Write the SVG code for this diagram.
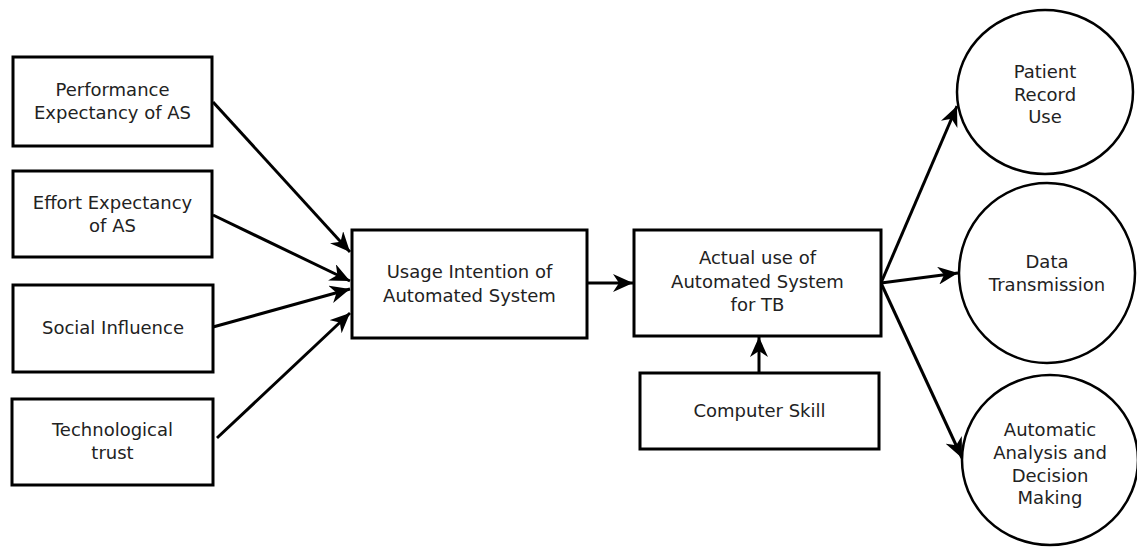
<svg xmlns="http://www.w3.org/2000/svg" width="1137" height="551" viewBox="0 0 1137 551">
<style>
  .box { fill: #fff; stroke: #000; stroke-width: 3; }
  .ell { fill: #fff; stroke: #000; stroke-width: 2.5; }
  .lbl { font-family: "DejaVu Sans", sans-serif; font-size: 18px; fill: #222; text-anchor: middle; }
  .conn { stroke: #000; stroke-width: 3; fill: none; marker-end: url(#arr); }
</style>
<defs>
  <marker id="arr" markerUnits="userSpaceOnUse" markerWidth="22" markerHeight="18" refX="20" refY="9" orient="auto">
    <path d="M0,0 L20,9 L0,18 L6,9 z" fill="#000"/>
  </marker>
</defs>
<rect width="1137" height="551" fill="#fff"/>
<g id="connectors">
  <line class="conn" x1="213" y1="102" x2="350" y2="252"/>
  <line class="conn" x1="213" y1="215" x2="350" y2="281"/>
  <line class="conn" x1="213" y1="327" x2="350" y2="289"/>
  <line class="conn" x1="217" y1="438" x2="350" y2="313"/>
  <line class="conn" x1="588" y1="283" x2="633" y2="283"/>
  <line class="conn" x1="759" y1="373" x2="759" y2="337"/>
  <line class="conn" x1="881" y1="283" x2="957" y2="106"/>
  <line class="conn" x1="881" y1="283" x2="958" y2="273"/>
  <line class="conn" x1="881" y1="283" x2="962" y2="458"/>
</g>
<g id="perf">
  <rect class="box" x="13" y="57" width="199" height="89"/>
  <text class="lbl" x="112.5" y="96">Performance</text>
  <text class="lbl" x="112.5" y="119">Expectancy of AS</text>
</g>
<g id="effort">
  <rect class="box" x="13" y="171" width="199" height="86"/>
  <text class="lbl" x="112.5" y="209">Effort Expectancy</text>
  <text class="lbl" x="112.5" y="232">of AS</text>
</g>
<g id="social">
  <rect class="box" x="13" y="285" width="200" height="87"/>
  <text class="lbl" x="113" y="334">Social Influence</text>
</g>
<g id="tech">
  <rect class="box" x="12" y="399" width="201" height="86"/>
  <text class="lbl" x="112.5" y="436">Technological</text>
  <text class="lbl" x="112.5" y="459">trust</text>
</g>
<g id="usage">
  <rect class="box" x="352" y="230" width="235" height="108"/>
  <text class="lbl" x="469.5" y="278">Usage Intention of</text>
  <text class="lbl" x="469.5" y="302">Automated System</text>
</g>
<g id="actual">
  <rect class="box" x="634" y="230" width="247" height="106"/>
  <text class="lbl" x="757.5" y="264">Actual use of</text>
  <text class="lbl" x="757.5" y="288">Automated System</text>
  <text class="lbl" x="757.5" y="311">for TB</text>
</g>
<g id="skill">
  <rect class="box" x="640" y="373" width="239" height="76"/>
  <text class="lbl" x="759.5" y="417">Computer Skill</text>
</g>
<g id="patient">
  <ellipse class="ell" cx="1045" cy="92" rx="88" ry="82"/>
  <text class="lbl" x="1045" y="78">Patient</text>
  <text class="lbl" x="1045" y="101">Record</text>
  <text class="lbl" x="1045" y="123">Use</text>
</g>
<g id="data">
  <ellipse class="ell" cx="1047" cy="273" rx="88" ry="90"/>
  <text class="lbl" x="1047" y="268">Data</text>
  <text class="lbl" x="1047" y="291">Transmission</text>
</g>
<g id="auto">
  <ellipse class="ell" cx="1050" cy="460" rx="88" ry="85"/>
  <text class="lbl" x="1050" y="436">Automatic</text>
  <text class="lbl" x="1050" y="459">Analysis and</text>
  <text class="lbl" x="1050" y="482">Decision</text>
  <text class="lbl" x="1050" y="504">Making</text>
</g>
</svg>
